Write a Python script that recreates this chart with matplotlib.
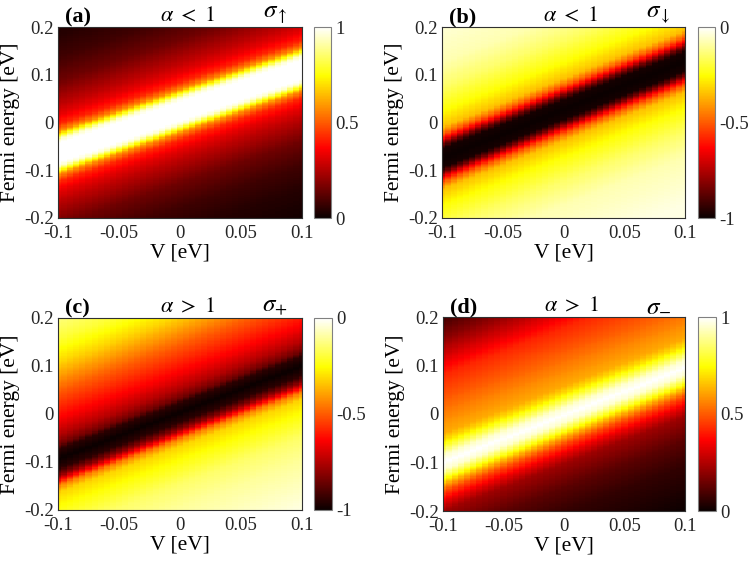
"""
Spin / valley conductance maps vs bias V and Fermi energy.
Four panels (a)-(d), hot colormap, colorbar on the right of each.
"""

import numpy as np
import matplotlib.pyplot as plt

plt.rcParams['font.family'] = ['Liberation Serif', 'DejaVu Serif']
plt.rcParams['mathtext.fontset'] = 'stix'

# sampling grid of the maps (coarse in V, fine in E, like the original)
V = np.linspace(-0.1, 0.1, 41)
E = np.linspace(-0.2, 0.2, 161)

# band centre (Fermi energy) at V = -0.1 and V = 0.1
center_a = [-0.064, 0.111]
center_b = [-0.075, 0.128]
center_c = [-0.094, 0.100]
center_d = [-0.100, 0.095]

# magnitude vs vertical distance from band centre, above / below
dist_a = [0, 0.02, 0.028, 0.035, 0.045, 0.06, 0.08, 0.1, 0.15, 0.2, 0.25, 0.32]
up_a = [1, 1, 0.95, 0.8, 0.58, 0.42, 0.33, 0.27, 0.15, 0.08, 0.04, 0.01]
down_a = up_a

dist_b = [0, 0.02, 0.03, 0.04, 0.05, 0.065, 0.1, 0.15, 0.2, 0.3]
up_b = [1, 0.98, 0.85, 0.65, 0.5, 0.35, 0.25, 0.15, 0.08, 0.03]
down_b = up_b

dist_c_up = [0, 0.02, 0.03, 0.05, 0.08, 0.1, 0.14, 0.2, 0.25, 0.3]
up_c = [1, 0.95, 0.85, 0.75, 0.65, 0.6, 0.5, 0.32, 0.2, 0.12]
dist_c_down = [0, 0.02, 0.035, 0.045, 0.055, 0.07, 0.1, 0.15, 0.2, 0.3]
down_c = [1, 0.95, 0.8, 0.63, 0.45, 0.32, 0.25, 0.15, 0.1, 0.03]

dist_d_up = [0, 0.015, 0.03, 0.045, 0.06, 0.09, 0.13, 0.18, 0.22, 0.26, 0.3]
up_d = [1, 0.95, 0.82, 0.7, 0.62, 0.57, 0.5, 0.42, 0.3, 0.18, 0.08]
dist_d_down = [0, 0.015, 0.03, 0.045, 0.06, 0.08, 0.1, 0.15, 0.2, 0.3]
down_d = [1, 0.95, 0.8, 0.62, 0.47, 0.33, 0.22, 0.12, 0.06, 0.0]


def band_map(center, dist_up, prof_up, dist_down, prof_down, sign):
    """Build the map from the centre line and the read-off profiles."""
    VV, EE = np.meshgrid(V, E)
    c = center[0] + (VV + 0.1) / 0.2 * (center[1] - center[0])
    d = EE - c
    above = np.interp(np.abs(d), dist_up, prof_up)
    below = np.interp(np.abs(d), dist_down, prof_down)
    return sign * np.where(d >= 0, above, below)


panels = [
    ('(a)', r'$\alpha\ <\ 1$', r'$\sigma_{\uparrow}$',
     band_map(center_a, dist_a, up_a, dist_a, down_a, 1), (0, 1)),
    ('(b)', r'$\alpha\ <\ 1$', r'$\sigma_{\downarrow}$',
     band_map(center_b, dist_b, up_b, dist_b, down_b, -1), (-1, 0)),
    ('(c)', r'$\alpha\ >\ 1$', r'$\sigma_{+}$',
     band_map(center_c, dist_c_up, up_c, dist_c_down, down_c, -1), (-1, 0)),
    ('(d)', r'$\alpha\ >\ 1$', r'$\sigma_{-}$',
     band_map(center_d, dist_d_up, up_d, dist_d_down, down_d, 1), (0, 1)),
]

W, H = 749, 564
# axes boxes in pixels: left, top, right, bottom
boxes = [(58, 27, 302, 218), (442, 27, 685, 218),
         (58, 318, 302, 510), (443, 317, 685, 511)]
cb_boxes = [(314, 27, 331, 218), (698, 27, 715, 218),
            (314, 318, 332, 510), (698, 317, 716, 511)]


def frac(box):
    l, t, r, b = box
    return [l / W, 1 - b / H, (r - l) / W, (b - t) / H]


fig = plt.figure(figsize=(7.49, 5.64), dpi=100)

for (tag, alpha, sigma, Z, lim), box, cbox in zip(panels, boxes, cb_boxes):
    ax = fig.add_axes(frac(box))
    mesh = ax.pcolormesh(V, E, Z, cmap='hot', vmin=lim[0], vmax=lim[1],
                         shading='nearest')
    ax.set_xlim(-0.1, 0.1)
    ax.set_ylim(-0.2, 0.2)
    ax.set_xticks([-0.1, -0.05, 0, 0.05, 0.1])
    ax.set_xticklabels(['-0.1', '-0.05', '0', '0.05', '0.1'])
    ax.set_yticks([-0.2, -0.1, 0, 0.1, 0.2])
    ax.set_yticklabels(['-0.2', '-0.1', '0', '0.1', '0.2'])
    ax.tick_params(length=0, labelsize=13.5, colors='#262626')
    ax.tick_params(axis='x', pad=5)
    ax.tick_params(axis='y', pad=3)
    for s in ax.spines.values():
        s.set_color('#303030')
        s.set_linewidth(0.8)
    ax.set_xlabel('V [eV]', fontsize=15.5, labelpad=1)
    ax.set_ylabel('Fermi energy [eV]', fontsize=15.5, labelpad=3)

    ax.text(0.03, 1.0, tag, transform=ax.transAxes, fontsize=16,
            fontweight='bold', ha='left', va='bottom')
    ax.text(0.53, 1.005, alpha, transform=ax.transAxes, fontsize=16,
            ha='center', va='bottom')
    ax.text(0.89, 1.005, sigma, transform=ax.transAxes, fontsize=18,
            ha='center', va='bottom')

    cax = fig.add_axes(frac(cbox))
    cb = fig.colorbar(mesh, cax=cax)
    if lim[0] == 0:
        cb.set_ticks([0, 0.5, 1])
        cb.set_ticklabels(['0', '0.5', '1'])
    else:
        cb.set_ticks([-1, -0.5, 0])
        cb.set_ticklabels(['-1', '-0.5', '0'])
    cb.ax.tick_params(length=0, labelsize=13.5, pad=3, colors='#262626')
    cb.outline.set_edgecolor('#808080')
    cb.outline.set_linewidth(0.8)

plt.savefig('out.png', dpi=100)
